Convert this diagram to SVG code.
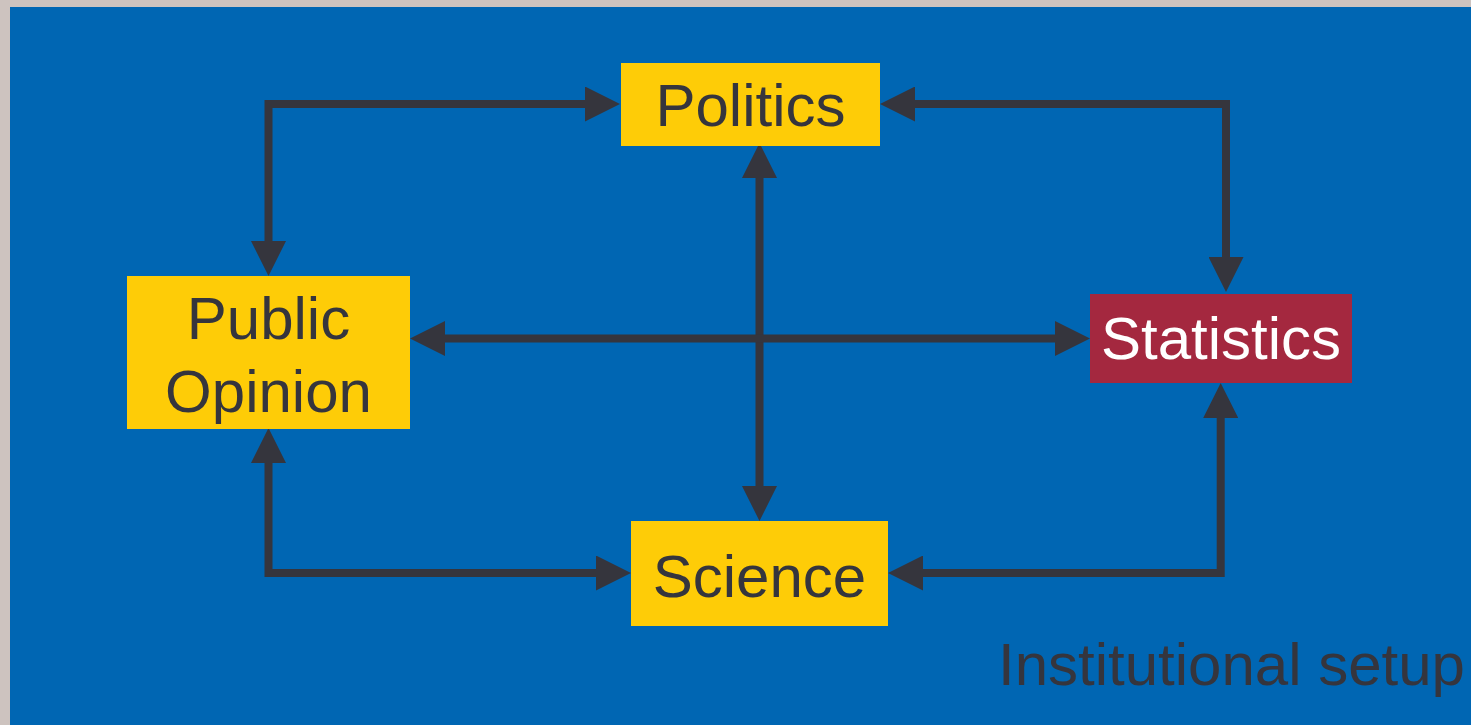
<svg xmlns="http://www.w3.org/2000/svg" width="1471" height="725" viewBox="0 0 1471 725">
<style>
.box{fill:#fecc07}
.lbl{font-family:"Liberation Sans",Arial,sans-serif;font-size:60px;fill:#35353d;text-anchor:middle}
.conn{fill:none;stroke:#35353d;stroke-width:8;stroke-linejoin:miter}
</style>
<defs>
<marker id="ah" viewBox="0 0 35 35" markerWidth="35" markerHeight="35" markerUnits="userSpaceOnUse" refX="0" refY="17.5" orient="auto-start-reverse">
<path d="M0,0 L35,17.5 L0,35 z" fill="#35353d"/>
</marker>
</defs>
<rect x="0" y="0" width="1471" height="725" fill="#cdc3bf"/>
<rect x="10" y="7" width="1461" height="718" fill="#0066b3"/>
<g id="connectors" class="conn" marker-start="url(#ah)" marker-end="url(#ah)">
<path d="M585,104 H268.5 V241"/>
<path d="M915,104 H1226 V257"/>
<path d="M759.5,178 V486"/>
<path d="M445,338.5 H1055"/>
<path d="M268.5,463 V573 H596"/>
<path d="M923,573 H1220.7 V418"/>
</g>
<g id="politics">
<rect class="box" x="621" y="63" width="259" height="83"/>
<text class="lbl" x="750.5" y="126">Politics</text>
</g>
<g id="public-opinion">
<rect class="box" x="127" y="276" width="283" height="153"/>
<text class="lbl" x="268.5" y="339">Public</text>
<text class="lbl" x="268.5" y="411.5">Opinion</text>
</g>
<g id="statistics">
<rect x="1090" y="294" width="262" height="89" fill="#a4283f"/>
<text class="lbl" x="1221" y="359" style="fill:#ffffff">Statistics</text>
</g>
<g id="science">
<rect class="box" x="631" y="521" width="257" height="105"/>
<text class="lbl" x="759.5" y="596.5">Science</text>
</g>
<text class="lbl" x="998" y="685" style="text-anchor:start">Institutional setup</text>
</svg>
